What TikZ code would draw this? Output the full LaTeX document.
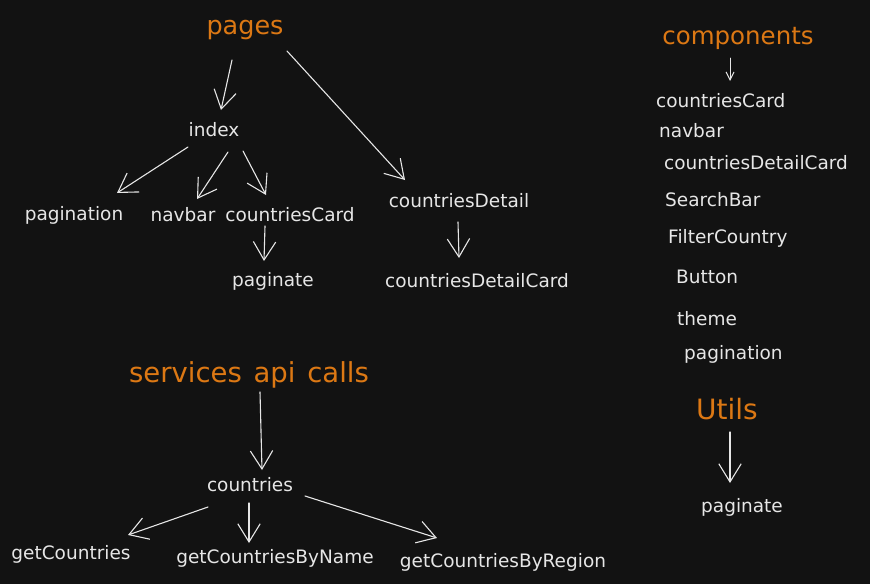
\documentclass[tikz,border=0pt]{standalone}
\usepackage{fontspec}
\setmainfont{DejaVu Sans}
\usetikzlibrary{arrows.meta}
\definecolor{bg}{HTML}{121212}
\definecolor{fg}{HTML}{E6E6E6}
\definecolor{hd}{HTML}{DC7814}
\tikzset{
  lbl/.style={text=fg, font=\fontsize{18.5}{20}\selectfont, inner sep=0pt},
  head/.style={text=hd, font=\fontsize{25.5}{28}\selectfont, inner sep=0pt},
  arr/.style={draw=fg, line width=1.1pt, line cap=round,
    -{Straight Barb[length=13pt,width=16pt,line width=1.1pt,scale=1.4]}},
  arrs/.style={draw=fg, line width=1pt, line cap=round,
    -{Straight Barb[length=8pt,width=8pt,line width=1pt]}},
}
\begin{document}
\begin{tikzpicture}[x=1pt,y=-1pt]
\path[fill=bg] (0,0) rectangle (870,584);
% headings
\node[head] (pages) at (245,30) {pages};
\node[head, font=\fontsize{24.5}{28}\selectfont] (comp) at (738,38) {components};
\node[head, font=\fontsize{27.5}{30}\selectfont] (svc) at (249,375) {services\hspace{3pt} api\hspace{3pt} calls};
\node[head, font=\fontsize{28}{30}\selectfont] (utils) at (727,409) {Utils};
% pages tree
\node[lbl] (index) at (214,130) {index};
\node[lbl] (pagn) at (74,215) {pagination};
\node[lbl] (navbar) at (183,215) {navbar};
\node[lbl] (ccard) at (290,215) {countriesCard};
\node[lbl] (pgt) at (273,281) {paginate};
\node[lbl] (cdet) at (459,201) {countriesDetail};
\node[lbl] (cdcard) at (477,281) {countriesDetailCard};
% components list
\node[lbl, anchor=west] (c1) at (656,101) {countriesCard};
\node[lbl, anchor=west] (c2) at (659,131) {navbar};
\node[lbl, anchor=west] (c3) at (664,163) {countriesDetailCard};
\node[lbl, anchor=west] (c4) at (665,200) {SearchBar};
\node[lbl, anchor=west] (c5) at (668,238) {FilterCountry};
\node[lbl, anchor=west] (c6) at (676,277) {Button};
\node[lbl, anchor=west] (c7) at (677,319) {theme};
\node[lbl, anchor=west] (c8) at (684,354) {pagination};
% utils
\node[lbl] (upg) at (742,507) {paginate};
% services
\node[lbl] (ctr) at (250,485) {countries};
\node[lbl] (gc) at (71,554) {getCountries};
\node[lbl] (gcn) at (275,558) {getCountriesByName};
\node[lbl] (gcr) at (503,562) {getCountriesByRegion};
% connectors
\draw[arr] ([shift={(-13,30)}]pages.center) -- ([shift={(7,-20)}]index.center);
\draw[arr] ([shift={(42,21)}]pages.center) -- ([shift={(-54,-21)}]cdet.center);
\draw[arr] ([shift={(-26,17)}]index.center) -- ([shift={(43,-22)}]pagn.center);
\draw[arr] ([shift={(14,22)}]index.center) -- ([shift={(14,-16)}]navbar.center);
\draw[arr] ([shift={(29,21)}]index.center) -- ([shift={(-24,-20)}]ccard.center);
\draw[arr] ([shift={(-25,11)}]ccard.center) -- ([shift={(-9,-20)}]pgt.center);
\draw[arr] ([shift={(-1,21)}]cdet.center) -- ([shift={(-18,-23)}]cdcard.center);
\draw[arrs] ([shift={(-8,20)}]comp.center) -- ([shift={(74,-20)}]c1.west);
\draw[arr] ([shift={(11,17)}]svc.center) -- ([shift={(12,-15)}]ctr.center);
\draw[arr] ([shift={(-42,22)}]ctr.center) -- ([shift={(57,-19)}]gc.center);
\draw[arr] ([shift={(-1,18)}]ctr.center) -- ([shift={(-26,-15)}]gcn.center);
\draw[arr] ([shift={(55,11)}]ctr.center) -- ([shift={(-66,-24)}]gcr.center);
\draw[arr] ([shift={(3,23)}]utils.center) -- ([shift={(-12,-24)}]upg.center);
\end{tikzpicture}
\end{document}
